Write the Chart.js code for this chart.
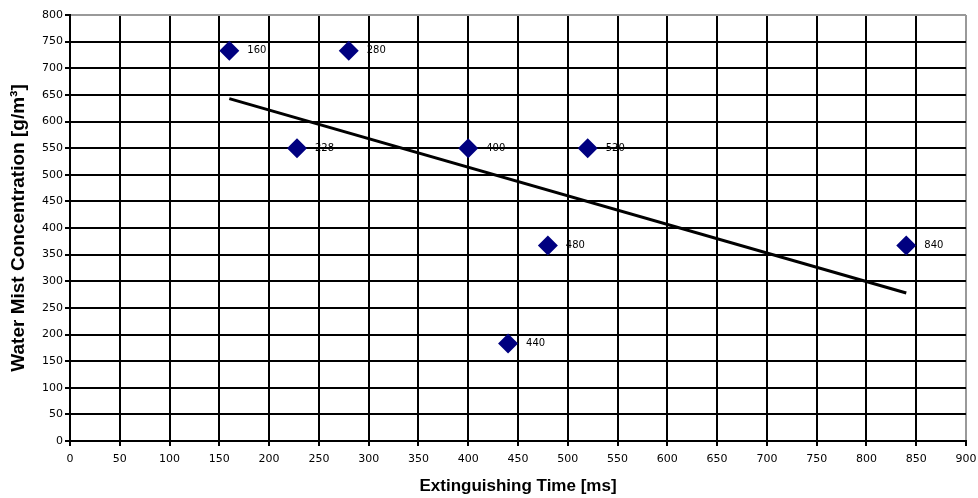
<!DOCTYPE html>
<html>
<head>
<meta charset="utf-8">
<script src="https://cdn.jsdelivr.net/npm/chart.js@4/dist/chart.umd.min.js"></script>
<style>
  html, body { margin: 0; padding: 0; background: #fff; }
  #wrap { width: 978px; height: 498px; }
</style>
</head>
<body>
<div id="wrap"><canvas id="chartContainer"></canvas></div>
<script>
// extinguishing time [ms] for each test
let times = [160, 280, 228, 400, 520, 480, 840, 440];
// water mist concentration [g/m3]
let concentrations = [733, 733, 550, 550, 550, 367, 367, 183];
// labels printed next to each point
let pointLabels = ['160', '280', '228', '400', '520', '480', '840', '440'];
// trend line, read at both ends
let trendTimes = [160, 840];
let trendValues = [643, 278];

function toXY(xs, ys) {
  let out = [];
  for (let i = 0; i < xs.length; i++) {
    out.push({ x: xs[i], y: ys[i] });
  }
  return out;
}

// writes the small value labels next to the diamonds
const pointLabelPlugin = {
  id: 'pointLabels',
  afterDatasetsDraw(chart) {
    let ctx = chart.ctx;
    let meta = chart.getDatasetMeta(1);
    ctx.save();
    ctx.font = '10px "DejaVu Sans"';
    ctx.fillStyle = '#000';
    ctx.textBaseline = 'middle';
    meta.data.forEach(function (pt, i) {
      ctx.fillText(pointLabels[i], pt.x + 18, pt.y);
    });
    ctx.restore();
  }
};

const whiteBg = {
  id: 'whiteBg',
  beforeDraw(chart) {
    let ctx = chart.ctx;
    ctx.save();
    ctx.fillStyle = '#fff';
    ctx.fillRect(0, 0, chart.width, chart.height);
    ctx.restore();
  }
};

let chart = new Chart(document.getElementById('chartContainer'), {
  type: 'scatter',
  data: {
    datasets: [{
      type: 'line',
      data: toXY(trendTimes, trendValues),
      borderColor: '#000',
      borderWidth: 3,
      pointRadius: 0,
      fill: false
    }, {
      data: toXY(times, concentrations),
      pointStyle: 'rectRot',
      pointRadius: 10,
      pointHoverRadius: 10,
      backgroundColor: '#000080',
      borderColor: '#000080',
      borderWidth: 0
    }]
  },
  options: {
    responsive: true,
    maintainAspectRatio: false,
    animation: false,
    layout: { padding: { top: 15, right: 12, left: 0, bottom: 0 } },
    plugins: {
      legend: { display: false },
      tooltip: { enabled: false }
    },
    scales: {
      x: {
        type: 'linear',
        min: 0,
        max: 900,
        afterFit: function (scale) {
          scale.height = 57;
          scale.paddingLeft = 0;
          scale.paddingRight = 0;
        },
        ticks: {
          stepSize: 50,
          color: '#000',
          padding: 7,
          maxRotation: 0,
          autoSkip: false,
          font: { family: 'DejaVu Sans', size: 11 }
        },
        grid: {
          color: function (c) { return c.tick && c.tick.value === 900 ? '#999' : '#000'; },
          lineWidth: 2,
          tickLength: 5,
          tickColor: '#000'
        },
        border: { color: '#000', width: 2 },
        title: {
          display: true,
          text: 'Extinguishing Time [ms]',
          color: '#000',
          font: { family: 'Liberation Sans', size: 17, weight: 'bold' },
          padding: { top: 0, bottom: 1 }
        }
      },
      y: {
        min: 0,
        max: 800,
        afterFit: function (scale) {
          scale.width = 70;
          scale.paddingTop = 0;
          scale.paddingBottom = 0;
        },
        ticks: {
          stepSize: 50,
          color: '#000',
          padding: 2,
          font: { family: 'DejaVu Sans', size: 11 }
        },
        grid: {
          color: function (c) { return c.tick && c.tick.value === 800 ? '#999' : '#000'; },
          lineWidth: 2,
          tickLength: 5,
          tickColor: '#000'
        },
        border: { color: '#000', width: 2 },
        title: {
          display: true,
          text: 'Water Mist Concentration [g/m³]',
          color: '#000',
          font: { family: 'Liberation Sans', size: 19, weight: 'bold' },
          padding: { top: 7, bottom: 0 }
        }
      }
    }
  },
  plugins: [whiteBg, pointLabelPlugin]
});
</script>
</body>
</html>
